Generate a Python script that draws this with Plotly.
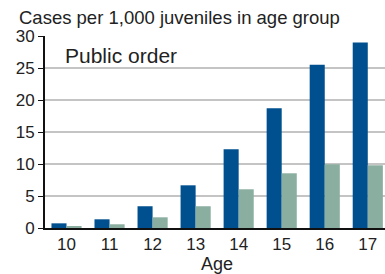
import plotly.graph_objects as go

ages = [10, 11, 12, 13, 14, 15, 16, 17]
series_a = [0.73, 1.36, 3.4, 6.67, 12.3, 18.7, 25.5, 29.0]
series_b = [0.27, 0.58, 1.67, 3.4, 6.05, 8.55, 9.95, 9.8]
y_ticks = [0, 5, 10, 15, 20, 25, 30]

fig = go.Figure()
fig.add_bar(x=ages, y=series_a, marker_color="#00508f", marker_line_width=0)
fig.add_bar(x=ages, y=series_b, marker_color="#8aaea0", marker_line_width=0)

font = "Liberation Sans, Arial, sans-serif"
L, T, B = 45, 36, 46
PW, PH = 385 - L, 274 - T - B

fig.update_layout(
    width=385, height=274,
    margin=dict(l=L, r=0, t=T, b=B, autoexpand=False),
    paper_bgcolor="white", plot_bgcolor="white",
    barmode="group", bargap=0.3, bargroupgap=0,
    showlegend=False,
    font=dict(family=font, size=17, color="#222"),
    xaxis=dict(
        range=[9.5, 17.4], tickvals=ages, ticktext=[str(a) for a in ages],
        showgrid=False, showline=True, linecolor="#111", linewidth=2,
        ticks="", zeroline=False, automargin=False,
        tickfont=dict(size=17),
    ),
    yaxis=dict(
        range=[0, 30], tickvals=y_ticks, showgrid=True, gridcolor="#c4c4c4", gridwidth=1.5,
        showline=True, linecolor="#111", linewidth=2, ticks="outside", ticklen=5,
        tickcolor="#111", zeroline=False, tickfont=dict(size=17), automargin=False,
    ),
    annotations=[
        dict(text="Cases per 1,000 juveniles in age group", xref="paper", yref="paper",
             x=(17 - L) / PW, y=(228 - 17) / PH, xanchor="left", yanchor="middle",
             showarrow=False, font=dict(size=18.5, color="#222")),
        dict(text="Public order", xref="paper", yref="paper",
             x=(63 - L) / PW, y=(228 - 56) / PH, xanchor="left", yanchor="middle",
             showarrow=False, font=dict(size=21, color="#222")),
        dict(text="Age", xref="paper", yref="paper",
             x=(217 - L) / PW, y=(228 - 264) / PH, xanchor="center", yanchor="middle",
             showarrow=False, font=dict(size=18, color="#222")),
    ],
)

fig.write_html(
    "out.html",
    config={"displayModeBar": False},
    post_script="document.body.style.margin='0';document.body.style.padding='0';",
)
